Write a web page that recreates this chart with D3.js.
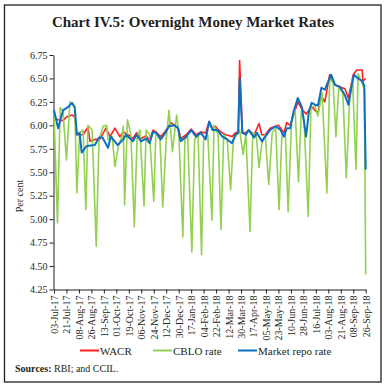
<!DOCTYPE html>
<html>
<head>
<style>
  body {
    margin: 0;
    background-color: #ffffff;
  }

  svg text {
    font-family: "Liberation Serif", "DejaVu Serif", serif;
    fill: #231f20;
  }
</style>
  <script src="https://d3js.org/d3.v7.min.js"></script>
</head>
<body>
<script>
  // values, [date, per cent]
  const wacr = [
    ['2017-07-03', 6.08], ['2017-07-09', 6.06], ['2017-07-16', 6.05], ['2017-07-21', 6.09],
    ['2017-07-29', 6.11], ['2017-08-02', 6.09], ['2017-08-05', 5.90], ['2017-08-09', 5.90],
    ['2017-08-14', 5.90], ['2017-08-21', 5.98], ['2017-08-24', 5.83], ['2017-08-31', 5.85],
    ['2017-09-07', 5.85], ['2017-09-16', 5.97], ['2017-09-22', 5.88], ['2017-09-29', 5.97],
    ['2017-10-06', 5.88], ['2017-10-11', 5.93], ['2017-10-18', 5.90], ['2017-10-25', 5.86],
    ['2017-10-30', 5.92], ['2017-11-06', 5.86], ['2017-11-13', 5.89], ['2017-11-18', 5.84],
    ['2017-11-23', 5.95], ['2017-11-27', 5.93], ['2017-12-04', 5.88], ['2017-12-09', 5.92],
    ['2017-12-19', 6.03], ['2017-12-24', 6.00], ['2017-12-29', 5.98], ['2018-01-02', 5.86],
    ['2018-01-10', 5.90], ['2018-01-17', 5.96], ['2018-01-24', 5.90], ['2018-01-31', 5.93],
    ['2018-02-07', 5.92], ['2018-02-12', 6.04], ['2018-02-17', 5.96], ['2018-02-21', 5.99],
    ['2018-02-24', 5.96], ['2018-03-03', 5.92], ['2018-03-08', 5.90], ['2018-03-17', 5.88],
    ['2018-03-22', 5.92], ['2018-03-26', 5.93], ['2018-03-28', 6.69], ['2018-04-01', 5.92],
    ['2018-04-06', 5.92], ['2018-04-10', 5.95], ['2018-04-18', 5.90], ['2018-04-25', 6.02],
    ['2018-04-29', 5.90], ['2018-05-04', 5.90], ['2018-05-11', 5.97], ['2018-05-19', 5.99],
    ['2018-05-23', 6.00], ['2018-05-31', 5.92], ['2018-06-04', 6.03], ['2018-06-09', 6.00],
    ['2018-06-14', 6.11], ['2018-06-20', 6.25], ['2018-06-26', 6.17], ['2018-07-02', 6.12],
    ['2018-07-06', 6.16], ['2018-07-10', 6.20], ['2018-07-15', 6.16], ['2018-07-19', 6.13],
    ['2018-07-24', 6.31], ['2018-07-29', 6.25], ['2018-08-05', 6.54], ['2018-08-13', 6.43],
    ['2018-08-20', 6.41], ['2018-08-27', 6.39], ['2018-09-01', 6.29], ['2018-09-08', 6.54],
    ['2018-09-13', 6.59], ['2018-09-21', 6.59], ['2018-09-22', 6.47], ['2018-09-26', 6.50]
  ];

  const cblo = [
    ['2017-07-03', 6.13], ['2017-07-08', 4.96], ['2017-07-12', 6.19], ['2017-07-16', 6.15],
    ['2017-07-21', 5.63], ['2017-07-26', 6.25], ['2017-07-30', 6.22], ['2017-08-02', 6.20],
    ['2017-08-05', 5.28], ['2017-08-09', 5.92], ['2017-08-14', 5.95], ['2017-08-18', 5.10],
    ['2017-08-21', 6.00], ['2017-08-27', 5.95], ['2017-09-02', 4.71], ['2017-09-06', 5.85],
    ['2017-09-12', 5.99], ['2017-09-17', 6.00], ['2017-09-19', 5.85], ['2017-09-25', 5.88],
    ['2017-09-29', 5.56], ['2017-10-04', 5.78], ['2017-10-09', 5.88], ['2017-10-11', 5.99],
    ['2017-10-13', 5.15], ['2017-10-17', 6.06], ['2017-10-22', 5.90], ['2017-10-27', 4.92],
    ['2017-10-31', 5.88], ['2017-11-04', 5.95], ['2017-11-10', 5.14], ['2017-11-13', 5.95],
    ['2017-11-18', 5.90], ['2017-11-24', 5.19], ['2017-11-27', 5.92], ['2017-12-03', 5.85],
    ['2017-12-07', 5.13], ['2017-12-12', 5.85], ['2017-12-16', 6.16], ['2017-12-21', 5.72],
    ['2017-12-27', 6.11], ['2017-12-30', 5.95], ['2018-01-05', 4.81], ['2018-01-08', 5.85],
    ['2018-01-12', 5.88], ['2018-01-18', 4.65], ['2018-01-22', 5.85], ['2018-01-27', 5.90],
    ['2018-02-01', 4.62], ['2018-02-04', 5.85], ['2018-02-10', 5.90], ['2018-02-16', 4.99],
    ['2018-02-19', 6.00], ['2018-02-25', 5.90], ['2018-03-01', 4.89], ['2018-03-05', 5.90],
    ['2018-03-10', 5.85], ['2018-03-15', 5.31], ['2018-03-19', 5.85], ['2018-03-24', 5.90],
    ['2018-03-28', 5.95], ['2018-04-02', 5.69], ['2018-04-06', 5.90], ['2018-04-12', 4.87],
    ['2018-04-16', 5.92], ['2018-04-21', 5.90], ['2018-04-25', 5.55], ['2018-04-29', 5.80],
    ['2018-05-04', 5.90], ['2018-05-09', 5.37], ['2018-05-14', 5.92], ['2018-05-19', 5.97],
    ['2018-05-24', 5.10], ['2018-05-28', 5.90], ['2018-06-02', 5.92], ['2018-06-06', 5.08],
    ['2018-06-11', 6.05], ['2018-06-16', 6.18], ['2018-06-21', 5.40], ['2018-06-25', 6.15],
    ['2018-06-29', 6.05], ['2018-07-05', 5.03], ['2018-07-09', 6.20], ['2018-07-15', 6.20],
    ['2018-07-19', 6.10], ['2018-07-25', 6.35], ['2018-08-01', 5.28], ['2018-08-05', 6.50],
    ['2018-08-10', 6.45], ['2018-08-14', 5.88], ['2018-08-18', 6.40], ['2018-08-24', 6.35],
    ['2018-08-29', 5.44], ['2018-09-03', 6.30], ['2018-09-07', 6.50], ['2018-09-12', 5.53],
    ['2018-09-15', 6.55], ['2018-09-21', 6.45], ['2018-09-24', 6.38], ['2018-09-26', 4.41]
  ];

  const repo = [
    ['2017-07-03', 6.16], ['2017-07-09', 5.97], ['2017-07-16', 6.16], ['2017-07-24', 6.20],
    ['2017-07-29', 6.24], ['2017-08-02', 6.19], ['2017-08-05', 5.90], ['2017-08-09', 5.92],
    ['2017-08-12', 5.71], ['2017-08-19', 5.78], ['2017-08-31', 5.79], ['2017-09-06', 5.87],
    ['2017-09-11', 5.87], ['2017-09-19', 5.76], ['2017-09-23', 5.88], ['2017-10-03', 5.79],
    ['2017-10-11', 5.85], ['2017-10-15', 5.90], ['2017-10-25', 5.83], ['2017-10-30', 5.90],
    ['2017-11-06', 5.83], ['2017-11-13', 5.86], ['2017-11-18', 5.81], ['2017-11-23', 5.93],
    ['2017-11-28', 5.92], ['2017-12-04', 5.85], ['2017-12-09', 5.90], ['2017-12-16', 5.99],
    ['2017-12-24', 6.00], ['2017-12-29', 5.97], ['2018-01-02', 5.83], ['2018-01-10', 5.88],
    ['2018-01-17', 5.95], ['2018-01-24', 5.88], ['2018-01-31', 5.92], ['2018-02-07', 5.85],
    ['2018-02-12', 6.04], ['2018-02-17', 5.95], ['2018-02-24', 5.95], ['2018-03-03', 5.88],
    ['2018-03-10', 5.85], ['2018-03-17', 5.81], ['2018-03-22', 5.90], ['2018-03-26', 5.92],
    ['2018-03-28', 6.50], ['2018-04-01', 5.92], ['2018-04-06', 5.90], ['2018-04-10', 5.95],
    ['2018-04-18', 5.87], ['2018-04-22', 5.92], ['2018-04-29', 5.83], ['2018-05-04', 5.88],
    ['2018-05-11', 5.95], ['2018-05-19', 5.99], ['2018-05-26', 5.95], ['2018-05-31', 5.88],
    ['2018-06-04', 5.97], ['2018-06-09', 5.97], ['2018-06-14', 6.15], ['2018-06-20', 6.29],
    ['2018-06-26', 6.19], ['2018-07-02', 5.88], ['2018-07-06', 6.15], ['2018-07-10', 6.24],
    ['2018-07-15', 6.22], ['2018-07-19', 6.21], ['2018-07-24', 6.40], ['2018-07-29', 6.38],
    ['2018-08-07', 6.54], ['2018-08-13', 6.43], ['2018-08-20', 6.41], ['2018-08-27', 6.32],
    ['2018-09-01', 6.22], ['2018-09-06', 6.43], ['2018-09-09', 6.54], ['2018-09-15', 6.50],
    ['2018-09-21', 6.47], ['2018-09-24', 6.42], ['2018-09-26', 5.53]
  ];

  const yTicks = [4.25, 4.50, 4.75, 5.00, 5.25, 5.50, 5.75, 6.00, 6.25, 6.50, 6.75];
  const firstDay = '2017-07-03';
  const lastDay = '2018-09-26';
  const tickStepDays = 18;

  const series = [
    { name: 'WACR', values: wacr, color: '#ff1f1f', width: 1.6 },
    { name: 'CBLO rate', values: cblo, color: '#92d050', width: 1.6 },
    { name: 'Market repo rate', values: repo, color: '#0e6fc1', width: 2 },
  ];

  const parse = d3.timeParse('%Y-%m-%d');

  const svg = d3.select('body')
    .append('svg')
    .attr('width', 387)
    .attr('height', 387);

  // frame
  svg.append('rect')
    .attr('x', 4.5)
    .attr('y', 5)
    .attr('width', 376.5)
    .attr('height', 377)
    .attr('fill', 'none')
    .attr('stroke', '#231f20')
    .attr('stroke-width', 1.3);

  svg.append('text')
    .attr('x', 193)
    .attr('y', 27)
    .attr('text-anchor', 'middle')
    .attr('font-size', 15)
    .attr('font-weight', 'bold')
    .text('Chart IV.5: Overnight Money Market Rates');

  const x = d3.scaleTime()
    .domain([parse(firstDay), parse(lastDay)])
    .range([54, 365.7]);

  const y = d3.scaleLinear()
    .domain([4.25, 6.75])
    .range([289.5, 55]);

  // y axis
  const yAxis = svg.append('g')
    .attr('transform', 'translate(53.5,0)')
    .call(d3.axisLeft(y).tickValues(yTicks).tickFormat(d3.format('.2f')).tickSize(4).tickSizeOuter(0));

  yAxis.select('.domain').attr('stroke', '#231f20');
  yAxis.selectAll('.tick line').attr('stroke', '#231f20');
  yAxis.selectAll('.tick text')
    .attr('x', -6)
    .attr('font-size', 10)
    .attr('font-family', null);

  svg.append('text')
    .attr('transform', 'translate(23,196) rotate(-90)')
    .attr('text-anchor', 'middle')
    .attr('font-size', 10)
    .text('Per cent');

  // x axis
  const xTicks = d3.range(0, 26).map((i) => d3.timeDay.offset(parse(firstDay), i * tickStepDays));

  const xAxis = svg.append('g')
    .attr('transform', 'translate(0,289.5)')
    .call(d3.axisBottom(x).tickValues(xTicks).tickFormat(d3.timeFormat('%d-%b-%y')).tickSize(4).tickSizeOuter(0));

  xAxis.select('.domain').attr('stroke', '#231f20');
  xAxis.selectAll('.tick line').attr('stroke', '#231f20');
  xAxis.selectAll('.tick text')
    .attr('font-size', 10)
    .attr('font-family', null)
    .attr('text-anchor', 'end')
    .attr('dy', '0.35em')
    .attr('x', -6)
    .attr('y', 0)
    .attr('transform', 'rotate(-90)');

  // lines
  const line = d3.line()
    .x((d) => x(parse(d[0])))
    .y((d) => y(d[1]));

  series.forEach((s) => {
    svg.append('path')
      .datum(s.values)
      .attr('fill', 'none')
      .attr('stroke', s.color)
      .attr('stroke-width', s.width)
      .attr('stroke-linejoin', 'round')
      .attr('d', line);
  });

  // legend
  const legendPos = [80, 153, 238];
  const legend = svg.append('g');
  series.forEach((s, i) => {
    legend.append('line')
      .attr('x1', legendPos[i])
      .attr('x2', legendPos[i] + 19)
      .attr('y1', 350.5)
      .attr('y2', 350.5)
      .attr('stroke', s.color)
      .attr('stroke-width', 2);
    legend.append('text')
      .attr('x', legendPos[i] + 20)
      .attr('y', 354.5)
      .attr('font-size', 11)
      .text(s.name);
  });

  const source = svg.append('text')
    .attr('x', 15)
    .attr('y', 372)
    .attr('font-size', 10);
  source.append('tspan').attr('font-weight', 'bold').text('Sources:');
  source.append('tspan').text(' RBI; and CCIL.');
</script>
</body>
</html>
